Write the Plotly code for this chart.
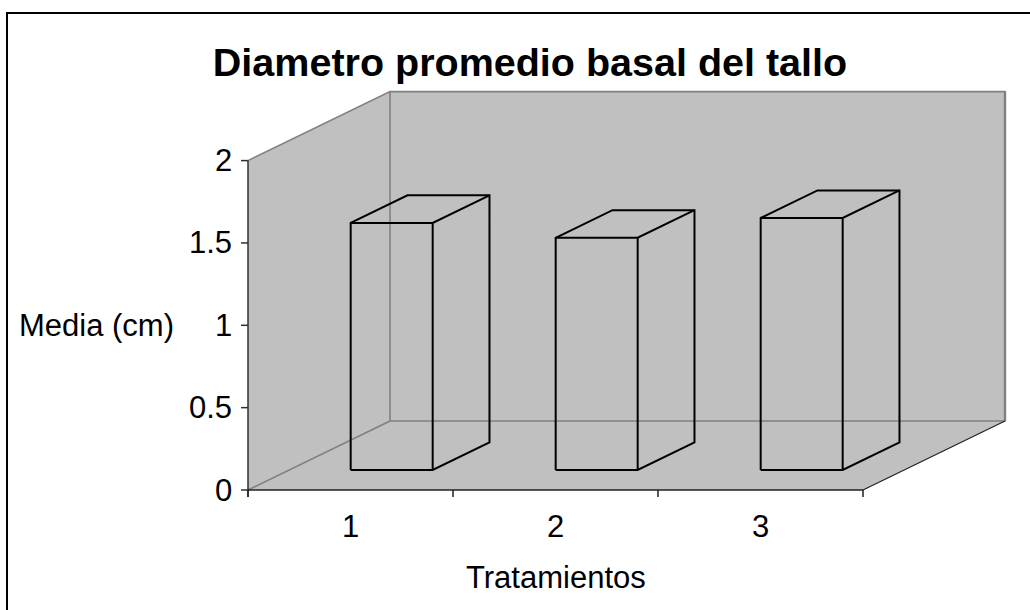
import plotly.graph_objects as go

# ---- data -------------------------------------------------------------
categories = [1, 2, 3]
medias = [1.50, 1.41, 1.53]
y_ticks = [0, 0.5, 1, 1.5, 2]
y_tick_labels = ["0", "0.5", "1", "1.5", "2"]
x_tick_labels = ["1", "2", "3"]

title_text = "Diametro promedio basal del tallo"
x_title = "Tratamientos"
y_title = "Media (cm)"

# ---- oblique 3-D projection settings ----------------------------------
W, H = 1030, 610
PX_PER_CAT = 205.0          # pixels per category step
PX_PER_UNIT = 164.7         # pixels per value unit
X0_PX, Y0_PX = 248.0, 490.0 # pixel position of (x=0.5, y=0)
DEPTH_PX = (142.0, 69.0)    # full depth of the floor, in pixels

DX = DEPTH_PX[0] / PX_PER_CAT
DY = DEPTH_PX[1] / PX_PER_UNIT
Y_MAX = max(y_ticks)
X_MIN, X_MAX = 0.5, len(categories) + 0.5

BAR_WIDTH = 0.4     # fraction of a category
BAR_FRONT = 0.29    # depth position of the bar front face
BAR_DEPTH = 0.4     # depth extent of the bar

x_range = [X_MIN - X0_PX / PX_PER_CAT, X_MIN + (W - X0_PX) / PX_PER_CAT]
y_range = [-(H - Y0_PX) / PX_PER_UNIT, Y0_PX / PX_PER_UNIT]

WALL = "#C0C0C0"
EDGE = "#808080"
FONT = "Arial, Liberation Sans, sans-serif"
LABEL_SIZE = 31

fig = go.Figure()


def poly(xs, ys, fill=None, color=EDGE, width=1.5):
    fig.add_trace(go.Scatter(
        x=xs, y=ys, mode="lines",
        fill="toself" if fill else None,
        fillcolor=fill,
        line=dict(color=color, width=width),
        hoverinfo="skip", showlegend=False,
    ))


# walls and floor
poly([X_MIN + DX, X_MAX + DX, X_MAX + DX, X_MIN + DX, X_MIN + DX],
     [DY, DY, Y_MAX + DY, Y_MAX + DY, DY], fill=WALL, color=WALL, width=0)
poly([X_MIN, X_MIN, X_MIN + DX, X_MIN + DX, X_MIN],
     [0, Y_MAX, Y_MAX + DY, DY, 0], fill=WALL, color=WALL, width=0)
poly([X_MIN, X_MAX, X_MAX + DX, X_MIN + DX, X_MIN],
     [0, 0, DY, DY, 0], fill=WALL, color=WALL, width=0)

# wall edges (gray)
poly([X_MIN, X_MIN + DX, X_MAX + DX, X_MAX + DX, X_MIN + DX, X_MIN + DX, None,
      X_MIN, X_MIN + DX],
     [Y_MAX, Y_MAX + DY, Y_MAX + DY, DY, DY, Y_MAX + DY, None,
      0, DY], color=EDGE, width=1.6)
poly([X_MAX + DX, X_MAX + DX], [DY, Y_MAX + DY], color=EDGE, width=2.4)

# floor right edge
poly([X_MAX, X_MAX + DX], [0, DY], color="#202020", width=1.2)

# bars (wireframe, visible edges only)
bx, by = [], []
for c, v in zip(categories, medias):
    fx0 = c - BAR_WIDTH / 2 + BAR_FRONT * DX
    fx1 = c + BAR_WIDTH / 2 + BAR_FRONT * DX
    fy0 = BAR_FRONT * DY
    fy1 = fy0 + v
    ox, oy = BAR_DEPTH * DX, BAR_DEPTH * DY
    bx += [fx0, fx0, fx0 + ox, fx1 + ox, fx1 + ox, fx1, fx0, None,
           fx0, fx1, fx1 + ox, None, fx1, fx1, None]
    by += [fy0, fy1, fy1 + oy, fy1 + oy, fy0 + oy, fy0, fy0, None,
           fy1, fy1, fy1 + oy, None, fy1, fy0, None]
fig.add_trace(go.Scatter(x=bx, y=by, mode="lines",
                         line=dict(color="black", width=2),
                         hoverinfo="skip", showlegend=False))

# front axes
TICK_X = 7 / PX_PER_CAT
TICK_Y = 7 / PX_PER_UNIT
ax_x, ax_y = [X_MIN, X_MIN, None], [-TICK_Y, Y_MAX, None]
for t in y_ticks:
    ax_x += [X_MIN - TICK_X, X_MIN, None]
    ax_y += [t, t, None]
fig.add_trace(go.Scatter(x=ax_x, y=ax_y, mode="lines",
                         line=dict(color="#303030", width=1.5),
                         hoverinfo="skip", showlegend=False))

fl_x, fl_y = [X_MIN, X_MAX, None], [0, 0, None]
for k in range(len(categories) + 1):
    xb = X_MIN + k
    fl_x += [xb, xb, None]
    fl_y += [0, -TICK_Y, None]
fig.add_trace(go.Scatter(x=fl_x, y=fl_y, mode="lines",
                         line=dict(color="#202020", width=1.5),
                         hoverinfo="skip", showlegend=False))

# tick labels
for t, lab in zip(y_ticks, y_tick_labels):
    fig.add_annotation(x=X_MIN, y=t, text=lab, showarrow=False,
                       xanchor="right", yanchor="middle", xshift=-14,
                       font=dict(family=FONT, size=LABEL_SIZE, color="black"))
for c, lab in zip(categories, x_tick_labels):
    fig.add_annotation(x=c, y=0, text=lab, showarrow=False,
                       xanchor="center", yanchor="middle", yshift=-36,
                       font=dict(family=FONT, size=LABEL_SIZE, color="black"))

# axis titles
fig.add_annotation(x=(X_MIN + X_MAX) / 2, y=0, text=x_title, showarrow=False,
                   xanchor="center", yanchor="middle", yshift=-87,
                   font=dict(family=FONT, size=LABEL_SIZE, color="black"))
fig.add_annotation(x=X_MIN, y=Y_MAX / 2, text=y_title, showarrow=False,
                   xanchor="right", yanchor="middle", xshift=-72,
                   font=dict(family=FONT, size=LABEL_SIZE, color="black"))

# chart frame
fig.add_shape(type="rect", xref="paper", yref="paper",
              x0=7 / W, x1=1.05, y0=-0.05, y1=1 - 13 / H,
              line=dict(color="black", width=2), fillcolor="rgba(0,0,0,0)")

fig.update_layout(
    width=W, height=H,
    margin=dict(l=0, r=0, t=0, b=0),
    paper_bgcolor="white", plot_bgcolor="white",
    title=dict(text="<b>" + title_text + "</b>", x=530 / W, y=1 - 62 / H,
               xanchor="center", yanchor="middle",
               font=dict(family=FONT, size=39.5, color="black")),
    xaxis=dict(range=x_range, visible=False, fixedrange=True),
    yaxis=dict(range=y_range, visible=False, fixedrange=True),
    showlegend=False,
)

fig.write_html("out.html")
